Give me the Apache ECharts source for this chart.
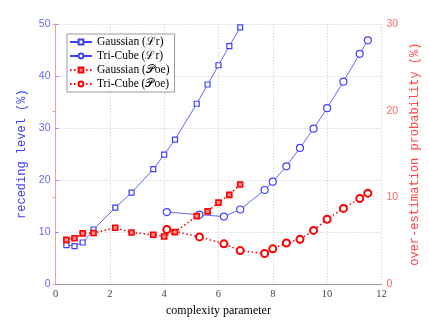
<!DOCTYPE html>
<html>
<head>
<meta charset="utf-8">
<script src="https://cdn.jsdelivr.net/npm/echarts@6/dist/echarts.min.js"></script>
<style>html,body{margin:0;padding:0;background:#fff}#c{width:429px;height:322px}</style>
</head>
<body>
<div id="c"></div>
<script>
var gaussX   = [0.4, 0.7, 1.0, 1.4, 2.2, 2.8, 3.6, 4.0, 4.4, 5.2, 5.6, 6.0, 6.4, 6.8];
var gaussLr  = [7.5, 7.3, 8.0, 10.5, 14.7, 17.6, 22.1, 24.9, 27.8, 34.7, 38.4, 42.1, 45.8, 49.4];
var gaussPoe = [5.1, 5.3, 5.85, 5.9, 6.5, 5.95, 5.7, 5.5, 6.0, 7.85, 8.4, 9.4, 10.3, 11.5];
var triX     = [4.1, 5.3, 6.2, 6.8, 7.7, 8.0, 8.5, 9.0, 9.5, 10.0, 10.6, 11.2, 11.5];
var triLr    = [13.85, 13.35, 13.0, 14.35, 18.1, 19.7, 22.65, 26.2, 29.9, 33.85, 38.95, 44.3, 46.9];
var triPoe   = [6.3, 5.45, 4.65, 3.87, 3.53, 4.07, 4.75, 5.17, 6.2, 7.48, 8.74, 9.87, 10.5];
var xTicks = [0, 12, 2];
var names = ['Gaussian (\u2112r)', 'Tri-Cube (\u2112r)', 'Gaussian (\uD835\uDCABoe)', 'Tri-Cube (\uD835\uDCABoe)'];

function pairs(xs, ys){ return xs.map(function(x,i){ return [x, ys[i]]; }); }

var BLUE = '#4040ff', RED = '#ff0000';
var SERIF = 'Liberation Serif, DejaVu Serif, serif';
var MONO = 'Liberation Mono, DejaVu Sans Mono, monospace';
var chart = echarts.init(document.getElementById('c'), null, {renderer:'canvas'});
chart.setOption({
  animation:false,
  backgroundColor:'#fff',
  grid:{left:55.5, right:41.5, top:24.2, bottom:34.3},
  legend:{
    orient:'vertical', left:67, top:34,
    itemWidth:22, itemHeight:6, itemGap:2,
    padding:[2,5,2,2],
    borderColor:'#999', borderWidth:1, backgroundColor:'#fff',
    textStyle:{fontFamily:SERIF, fontSize:11.5, color:'#000'},
    data:names
  },
  xAxis:[{
    type:'value', min:xTicks[0], max:xTicks[1], interval:xTicks[2],
    name:'complexity parameter', nameLocation:'middle', nameGap:19,
    nameTextStyle:{fontFamily:SERIF, fontSize:12, color:'#000'},
    axisLine:{lineStyle:{color:'#888'}},
    axisTick:{show:false},
    axisLabel:{fontFamily:SERIF, fontSize:10.5, color:'#444', margin:5},
    splitLine:{show:true, lineStyle:{color:'#c8c8c8', type:[1,2]}}
  },{
    type:'value', position:'top', min:xTicks[0], max:xTicks[1],
    axisLine:{show:true, lineStyle:{color:'#999'}},
    axisTick:{show:false}, axisLabel:{show:false}, splitLine:{show:false}
  }],
  yAxis:[{
    type:'value', min:0, max:50, interval:10, position:'left',
    name:'receding level (%)', nameLocation:'middle', nameGap:19,
    nameTextStyle:{fontFamily:MONO, fontSize:12, color:BLUE},
    axisLine:{show:true, lineStyle:{color:'#8888ff'}},
    axisTick:{show:true, inside:true, length:3, lineStyle:{color:'#8888ff'}},
    axisLabel:{fontFamily:'Liberation Sans, sans-serif', fontSize:10.5, color:'#6666ff', margin:5},
    splitLine:{show:true, lineStyle:{color:'#c8c8c8', type:[1,2]}}
  },{
    type:'value', min:0, max:30, interval:10, position:'right',
    name:'over-estimation probability (%)', nameLocation:'middle', nameGap:20, nameRotate:90,
    nameTextStyle:{fontFamily:MONO, fontSize:12, color:'#ff4444'},
    axisLine:{show:true, lineStyle:{color:'#ff9999'}},
    axisTick:{show:true, inside:true, length:3, lineStyle:{color:'#ff9999'}},
    axisLabel:{fontFamily:'Liberation Sans, sans-serif', fontSize:10.5, color:'#ff6666', margin:5},
    splitLine:{show:false}
  }],
  series:[
    {name:names[0], type:'line', yAxisIndex:0, data:pairs(gaussX, gaussLr),
     symbol:'rect', symbolSize:5, showAllSymbol:true,
     lineStyle:{color:BLUE, width:0.8}, itemStyle:{color:'#fff', borderColor:BLUE, borderWidth:1.2}},
    {name:names[1], type:'line', yAxisIndex:0, data:pairs(triX, triLr),
     symbol:'circle', symbolSize:7, showAllSymbol:true,
     lineStyle:{color:BLUE, width:0.8}, itemStyle:{color:'#fff', borderColor:BLUE, borderWidth:1.2}},
    {name:names[2], type:'line', yAxisIndex:1, data:pairs(gaussX, gaussPoe),
     symbol:'rect', symbolSize:5, showAllSymbol:true,
     lineStyle:{color:RED, width:1.5, type:[1.5,2.5]}, itemStyle:{color:'#ff8888', borderColor:RED, borderWidth:1.6}},
    {name:names[3], type:'line', yAxisIndex:1, data:pairs(triX, triPoe),
     symbol:'circle', symbolSize:7, showAllSymbol:true,
     lineStyle:{color:RED, width:1.5, type:[1.5,2.5]}, itemStyle:{color:'#fff', borderColor:RED, borderWidth:2}}
  ]
});
</script>
</body>
</html>
